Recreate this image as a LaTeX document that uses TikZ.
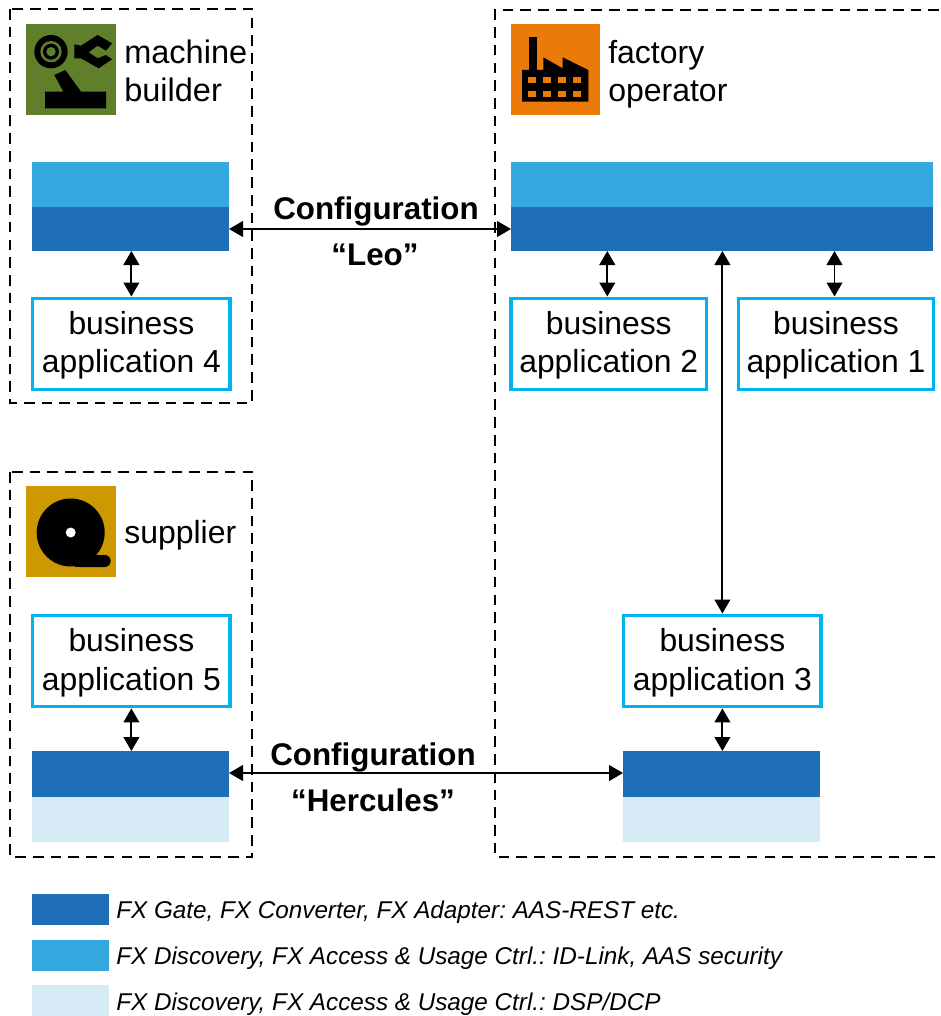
\documentclass[tikz,border=0pt]{standalone}
\usepackage{fontspec}
\setmainfont{Liberation Sans}
\usetikzlibrary{arrows.meta}
\definecolor{fxdark}{HTML}{1F6FB8}
\definecolor{fxmid}{HTML}{35A8E0}
\definecolor{fxpale}{HTML}{D6EBF6}
\definecolor{appcyan}{HTML}{00B4F0}
\definecolor{mbgreen}{HTML}{5F7F2A}
\definecolor{forange}{HTML}{EC7A08}
\definecolor{sgold}{HTML}{CC9900}
\tikzset{
  x=0.75pt,y=-0.75pt,
  block/.style={fill=#1,draw=none,inner sep=0,outer sep=0,anchor=north west},
  appbox/.style={draw=appcyan,line width=2.6pt,fill=white,anchor=north west,inner sep=0,outer sep=1.3pt,align=center,minimum width=#1,minimum height=68.6pt,font=\fontsize{23.9}{28.5}\selectfont},
  zone/.style={draw=black,line width=1.4pt,dash pattern=on 8pt off 5.3pt},
  conn/.style={draw=black,line width=1.4pt,{Triangle[length=10.5pt,width=11.8pt]}-{Triangle[length=10.5pt,width=11.8pt]}},
  lbl/.style={anchor=west,inner sep=0,align=left,font=\fontsize{24}{28.5}\selectfont},
  cfg/.style={anchor=center,inner sep=0,font=\fontsize{23.5}{28}\selectfont\bfseries},
  legendtext/.style={anchor=west,inner sep=0,font=\fontsize{18.2}{20}\selectfont\itshape\frenchspacing},
  zoomed/.style={x=0.25pt,y=-0.25pt},
}
\newcommand{\blockat}[6]{\node[block=#6,minimum width=#4*0.75pt,minimum height=#5*0.75pt] (#1) at (#2,#3) {};}
\newcommand{\apptext}[1]{\rule{0pt}{20pt}business\\application #1}
\begin{document}
\begin{tikzpicture}
\useasboundingbox (0,0) rectangle (940,1016);
% zones
\draw[zone] (10,9) rectangle (252,403);
\draw[zone] (10,472) rectangle (252,857);
\draw[zone] (939,10) -- (495,10) -- (495,857) -- (939,857);
% icon tiles
\blockat{iconM}{26}{24.5}{90}{91}{mbgreen}
\blockat{iconF}{510.5}{24.5}{89.5}{91}{forange}
\blockat{iconS}{25.5}{485.5}{90}{91}{sgold}
% machine builder icon
\begin{scope}[shift={(26,25)},zoomed]
\fill[black] (75,80) circle (50);
\fill[mbgreen] (75,80) circle (32);
\fill[black] (75,80) circle (24);
\fill[mbgreen] (75,80) circle (14);
\fill[black] (85,150) -- (118,135) -- (165,200) -- (240,200) -- (240,250) -- (57,250) -- (57,200) -- (112,200) -- cycle;
\fill[black] (145,58) -- (165,62) -- (215,30) -- (258,55) -- (240,77) -- (215,62) -- (188,82) -- (215,100) -- (240,90) -- (258,103) -- (218,130) -- (165,100) -- (145,100) -- cycle;
\end{scope}
% factory icon
\begin{scope}[shift={(511,25)},zoomed]
\fill[black] (55,35) rectangle (77,135);
\fill[black] (33,135) -- (97,135) -- (97,97) -- (155,130) -- (155,97) -- (232,135) -- (232,230) -- (33,230) -- cycle;
\foreach \yy in {156,197}{\foreach \xx in {52,96,141,185}{\fill[forange] (\xx,\yy) rectangle (\xx+24,\yy+18);}}
\end{scope}
% supplier icon
\fill[black] (70.7,532.5) circle (34);
\fill[black,rounded corners=4.5pt] (75,555) rectangle (110.7,567);
\fill[black] (75,555) rectangle (92,566.5);
\fill[white] (70.7,532.5) circle (5);
% titles
\node[lbl,font=\fontsize{24.4}{28.5}\selectfont] (tM) at (124,71) {machine\\builder};
\node[lbl] (tF) at (608,74.5) {factory\\operator};
\node[lbl] (tS) at (124,535) {supplier};
% FX blocks
\blockat{gateLtop}{32}{162}{197}{45}{fxmid}
\blockat{gateL}{32}{207}{197}{44}{fxdark}
\blockat{gateRtop}{511}{162}{422}{45}{fxmid}
\blockat{gateR}{511}{207}{422}{44}{fxdark}
\blockat{gateS}{32}{751}{197}{46}{fxdark}
\blockat{gateSb}{32}{797}{197}{45}{fxpale}
\blockat{gateT}{623}{751}{197}{46}{fxdark}
\blockat{gateTb}{623}{797}{197}{45}{fxpale}
% applications
\node[appbox=148pt] (app4) at (31,296.5) {\apptext{4}};
\node[appbox=146.6pt] (app2) at (509.3,296.5) {\apptext{2}};
\node[appbox=146.6pt] (app1) at (736.5,296.5) {\apptext{1}};
\node[appbox=148pt] (app5) at (31,613.5) {\apptext{5}};
\node[appbox=148pt] (app3) at (622,613.5) {\apptext{3}};
\coordinate (a2) at ([xshift=-1.1pt]app2.north);
\coordinate (a1) at ([xshift=-1.1pt]app1.north);
% connectors
\draw[conn] (gateL.east) -- (gateR.west |- gateL.east);
\draw[conn] (gateS.east |- 0,773) -- (gateT.west |- 0,773);
\draw[conn] (gateL.south -| app4.north) -- (app4.north);
\draw[conn] (gateR.south -| a2) -- (a2);
\draw[conn] (gateR.south -| a1) -- (a1);
\draw[conn] (gateR.south -| app3.north) -- (app3.north);
\draw[conn] (app3.south) -- (gateT.north -| app3.south);
\draw[conn] (app5.south) -- (gateS.north -| app5.south);
% configuration labels
\node[cfg] (c1) at (376,211) {Configuration};
\node[cfg] (c2) at (375,255) {“Leo”};
\node[cfg] (c3) at (373,757) {Configuration};
\node[cfg] (c4) at (373,800) {“Hercules”};
% legend
\blockat{k1}{32}{894}{77}{31}{fxdark}
\blockat{k2}{32}{940}{77}{31}{fxmid}
\blockat{k3}{32}{985}{77}{31}{fxpale}
\node[legendtext] (t1) at (116,912) {FX Gate, FX Converter, FX Adapter: AAS-REST etc.};
\node[legendtext] (t2) at (116,958) {FX Discovery, FX Access \& Usage Ctrl.: ID-Link, AAS security};
\node[legendtext] (t3) at (116,1004) {FX Discovery, FX Access \& Usage Ctrl.: DSP/DCP};
\end{tikzpicture}
\end{document}
